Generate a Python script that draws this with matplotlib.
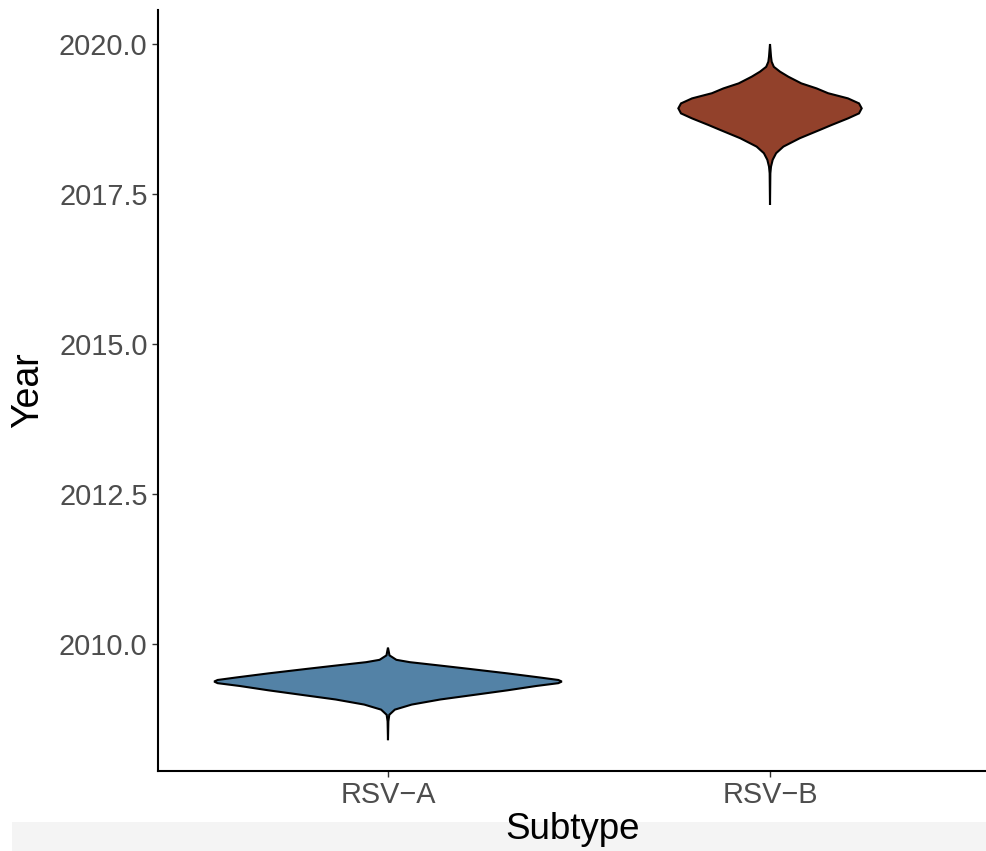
import numpy as np
import matplotlib.pyplot as plt
from matplotlib.patches import Rectangle

plt.rcParams['font.family'] = ['Liberation Sans', 'DejaVu Sans']

# categorias y colores
subtipos = ['RSV\u2212A', 'RSV\u2212B']
colores = ['#5382a6', '#92412b']

# perfil de cada violin (año, medio ancho)
anio_a = [2009.94, 2009.81, 2009.736, 2009.697, 2009.64, 2009.584, 2009.51, 2009.442,
          2009.40, 2009.374, 2009.347, 2009.30, 2009.228, 2009.16, 2009.075, 2008.99,
          2008.906, 2008.82, 2008.71, 2008.397]
ancho_a = [0.0, 0.004, 0.022, 0.057, 0.137, 0.214, 0.313, 0.397,
           0.446, 0.455, 0.446, 0.388, 0.313, 0.235, 0.137, 0.062,
           0.018, 0.0035, 0.001, 0.0]

anio_b = [2020.0, 2019.79, 2019.705, 2019.62, 2019.54, 2019.455, 2019.344, 2019.26,
          2019.18, 2019.094, 2019.01, 2018.928, 2018.844, 2018.76, 2018.65, 2018.567,
          2018.43, 2018.29, 2018.18, 2018.07, 2017.956, 2017.845, 2017.317]
ancho_b = [0.0, 0.0026, 0.0043, 0.010, 0.026, 0.048, 0.082, 0.122,
           0.152, 0.204, 0.233, 0.240, 0.233, 0.204, 0.161, 0.130,
           0.078, 0.035, 0.016, 0.007, 0.0026, 0.0009, 0.0]

perfiles = [(anio_a, ancho_a), (anio_b, ancho_b)]

fig = plt.figure(figsize=(9.87, 8.51), dpi=100)

# franja gris abajo como en la captura (detras de todo)
fig.patches.append(Rectangle((0.012, 0), 0.988, 29/851, transform=fig.transFigure,
                             facecolor='#f4f4f4', edgecolor='none', zorder=-5))

ax = fig.add_axes([158/987, 80/851, 1 - 158/987, 761/851])
ax.patch.set_alpha(0)

# dibujo los violines
for i, (anios, anchos) in enumerate(perfiles):
    pos = i + 1
    anios = np.array(anios)
    anchos = np.array(anchos)
    xs = np.concatenate([pos - anchos, (pos + anchos)[::-1]])
    ys = np.concatenate([anios, anios[::-1]])
    ax.fill(xs, ys, facecolor=colores[i], edgecolor='black', linewidth=1.5, zorder=2)

ax.set_xlim(0.398, 2.568)
ax.set_ylim(2007.883, 2020.567)
ax.set_xticks([1, 2])
ax.set_xticklabels(subtipos)
ax.set_yticks([2010, 2012.5, 2015, 2017.5, 2020])
ax.set_yticklabels(['2010.0', '2012.5', '2015.0', '2017.5', '2020.0'])

ax.tick_params(axis='both', labelsize=20.8, colors='#333333', labelcolor='#4d4d4d',
               length=4, width=1.0, pad=3.5)
for lado in ['top', 'right']:
    ax.spines[lado].set_visible(False)
for lado in ['left', 'bottom']:
    ax.spines[lado].set_linewidth(1.5)

ax.set_xlabel('Subtype', fontsize=26.5, labelpad=2)
ax.set_ylabel('Year', fontsize=27, labelpad=9)

fig.savefig('out.png', dpi=100)
